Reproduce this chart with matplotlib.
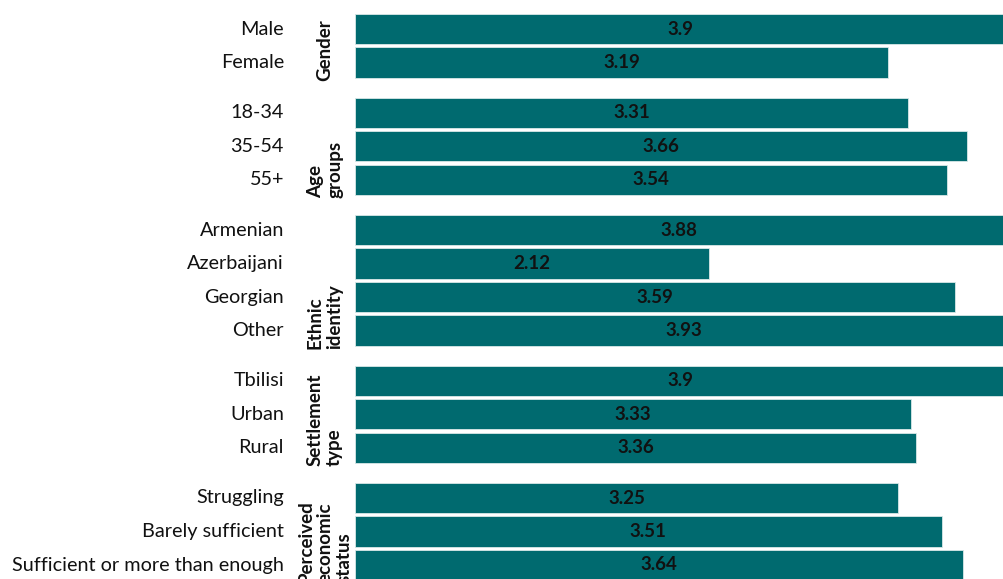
import matplotlib
matplotlib.use("Agg")
import matplotlib.pyplot as plt

# Mean scores by demographic group
groups = ["Gender", "Age\ngroups", "Ethnic\nidentity", "Settlement\ntype", "Perceived\neconomic\nstatus"]
categories = [
    ["Male", "Female"],
    ["18-34", "35-54", "55+"],
    ["Armenian", "Azerbaijani", "Georgian", "Other"],
    ["Tbilisi", "Urban", "Rural"],
    ["Struggling", "Barely sufficient", "Sufficient or more than enough"],
]
values = [
    [3.9, 3.19],
    [3.31, 3.66, 3.54],
    [3.88, 2.12, 3.59, 3.93],
    [3.9, 3.33, 3.36],
    [3.25, 3.51, 3.64],
]

BAR_COLOR = "#006a6f"
GROUP_GAP = 1.5
BAR_H = 0.9

plt.rcParams["font.family"] = ["Lato", "DejaVu Sans"]

fig = plt.figure(figsize=(10.04, 5.79), dpi=100)
ax = fig.add_axes([355 / 1004, 0.0, 1 - 355 / 1004, 1.0])

pos = 0.0
for gi, (gname, cats, vals) in enumerate(zip(groups, categories, values)):
    if gi > 0:
        pos += GROUP_GAP - 1
    ys = []
    for cat, v in zip(cats, vals):
        ax.barh(pos, v, height=BAR_H, color=BAR_COLOR,
                edgecolor="#d8e8e8", linewidth=0.6)
        ax.text(v / 2, pos, f"{v:g}", ha="center", va="center",
                fontsize=13.5, fontweight="bold", color="#111111")
        ax.annotate(cat, xy=(0, pos), xycoords=("axes fraction", "data"),
                    xytext=(-71, 0), textcoords="offset pixels",
                    ha="right", va="center", fontsize=14.3, color="#111111")
        ys.append(pos)
        pos += 1
    bottom = ys[-1] + BAR_H / 2
    ax.annotate(gname, xy=(0, bottom), xycoords=("axes fraction", "data"),
                xytext=(-30, -3), textcoords="offset pixels",
                rotation=90, rotation_mode="anchor",
                ha="left", va="center", multialignment="left",
                fontsize=13.5, fontweight="bold", color="#111111",
                linespacing=1.15, annotation_clip=False)

ax.set_xlim(0, 649 / 167.1)
ax.set_ylim((579 - 29) / 33.5, -29 / 33.5)
ax.axis("off")

fig.savefig("out.png", dpi=100)
